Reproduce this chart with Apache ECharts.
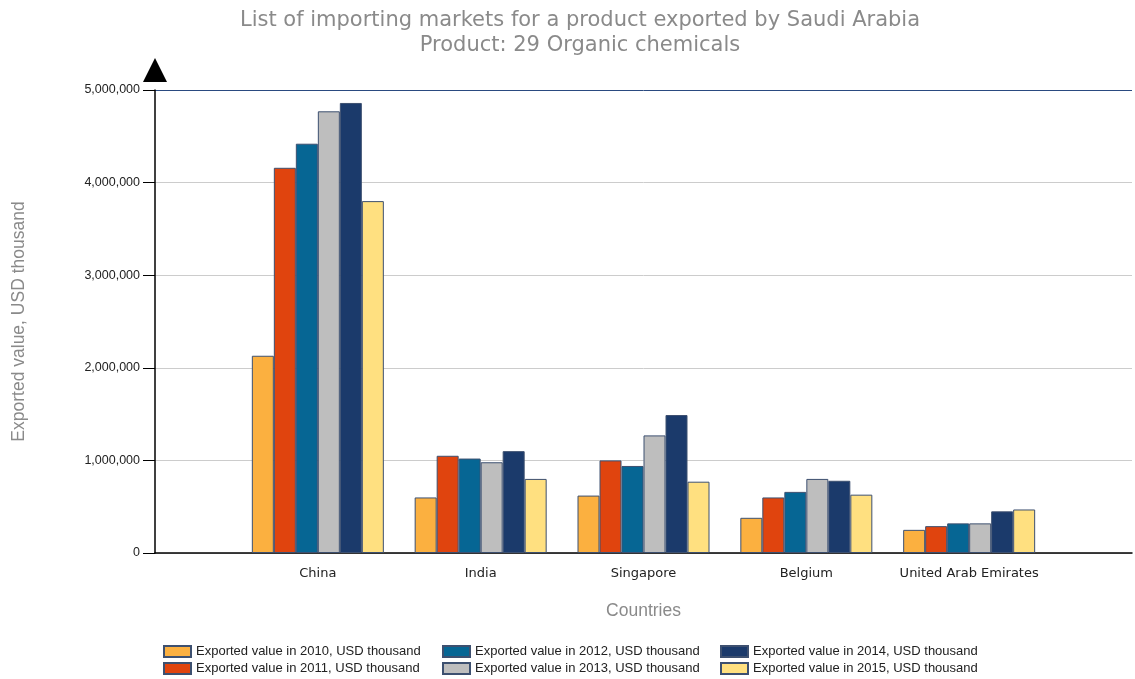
<!DOCTYPE html>
<html>
<head>
<meta charset="utf-8">
<script src="https://cdn.jsdelivr.net/npm/echarts@6/dist/echarts.min.js"></script>
<style>
  html, body { margin: 0; padding: 0; background: #fff; }
  #chart { width: 1135px; height: 679px; }
</style>
</head>
<body>
<div id="chart"></div>
<script>
const countries = ['China', 'India', 'Singapore', 'Belgium', 'United Arab Emirates'];
const years = ['2010', '2011', '2012', '2013', '2014', '2015'];

// values per year, USD thousand, in the order of countries
const v2010 = [2130000, 600000, 620000, 380000, 250000];
const v2011 = [4160000, 1050000, 1000000, 600000, 290000];
const v2012 = [4420000, 1020000, 940000, 660000, 320000];
const v2013 = [4770000, 980000, 1270000, 800000, 320000];
const v2014 = [4860000, 1100000, 1490000, 780000, 450000];
const v2015 = [3800000, 800000, 770000, 630000, 470000];
const yearValues = [v2010, v2011, v2012, v2013, v2014, v2015];

const colors = ['#fbb040', '#e0440e', '#066694', '#bebebe', '#1b3a6b', '#ffe080'];

const chart = echarts.init(document.getElementById('chart'));

const seriesName = y => 'Exported value in ' + y + ', USD thousand';

// empty slot at each end so groups sit on the ticks
const cats = [''].concat(countries, ['']);

const series = years.map((y, i) => ({
  name: seriesName(y),
  type: 'bar',
  barWidth: 22,
  barGap: '0%',
  itemStyle: { color: colors[i], borderColor: '#3d5070', borderWidth: 1 },
  data: [null].concat(yearValues[i], [null])
}));

const legendText = { fontFamily: 'Liberation Sans', fontSize: 13, color: '#222' };
const legendCol = (left, names) => ({
  left: left, top: 645, height: 34, padding: 0, orient: 'vertical', itemGap: 4,
  itemWidth: 27, itemHeight: 11, icon: 'rect', textStyle: legendText, data: names,
  selectedMode: false
});

const option = {
  animation: false,
  title: {
    text: 'List of importing markets for a product exported by Saudi Arabia\nProduct: 29 Organic chemicals',
    left: 575, top: 3, textAlign: 'center',
    textStyle: { fontFamily: 'DejaVu Sans', fontSize: 21, fontWeight: 'normal', color: '#8a8a8a', lineHeight: 25 }
  },
  legend: [
    legendCol(163, [seriesName('2010'), seriesName('2011')]),
    legendCol(442, [seriesName('2012'), seriesName('2013')]),
    legendCol(720, [seriesName('2014'), seriesName('2015')])
  ],
  grid: { left: 155, right: 2, top: 90, bottom: 126 },
  xAxis: {
    type: 'category',
    data: cats,
    boundaryGap: false,
    name: 'Countries',
    nameLocation: 'middle',
    nameGap: 49,
    nameTextStyle: { fontFamily: 'Liberation Sans', fontSize: 17.5, color: '#8a8a8a' },
    axisLine: { lineStyle: { color: '#000', width: 1.5 } },
    axisTick: { show: false },
    axisLabel: { fontFamily: 'DejaVu Sans', fontSize: 13, color: '#222', margin: 14, interval: 0 },
    splitLine: { show: false }
  },
  yAxis: {
    type: 'value',
    min: 0, max: 5000000, interval: 1000000,
    name: 'Exported value, USD thousand',
    nameLocation: 'middle',
    nameGap: 127,
    nameTextStyle: { fontFamily: 'Liberation Sans', fontSize: 17.5, color: '#8a8a8a' },
    axisLine: {
      show: true,
      lineStyle: { color: '#000', width: 1.5 },
      symbol: ['none', 'triangle'],
      symbolSize: [24, 24],
      symbolOffset: [0, 20]
    },
    axisTick: { show: true, length: 12, lineStyle: { color: '#000' } },
    axisLabel: {
      fontFamily: 'Liberation Sans', fontSize: 12.5, color: '#222', margin: 15,
      formatter: v => v.toLocaleString('en-US')
    },
    splitLine: {
      show: true,
      lineStyle: { color: ['#cccccc', '#cccccc', '#cccccc', '#cccccc', '#cccccc', '#2a4a80'] }
    }
  },
  series: series
};

chart.setOption(option);
</script>
</body>
</html>
